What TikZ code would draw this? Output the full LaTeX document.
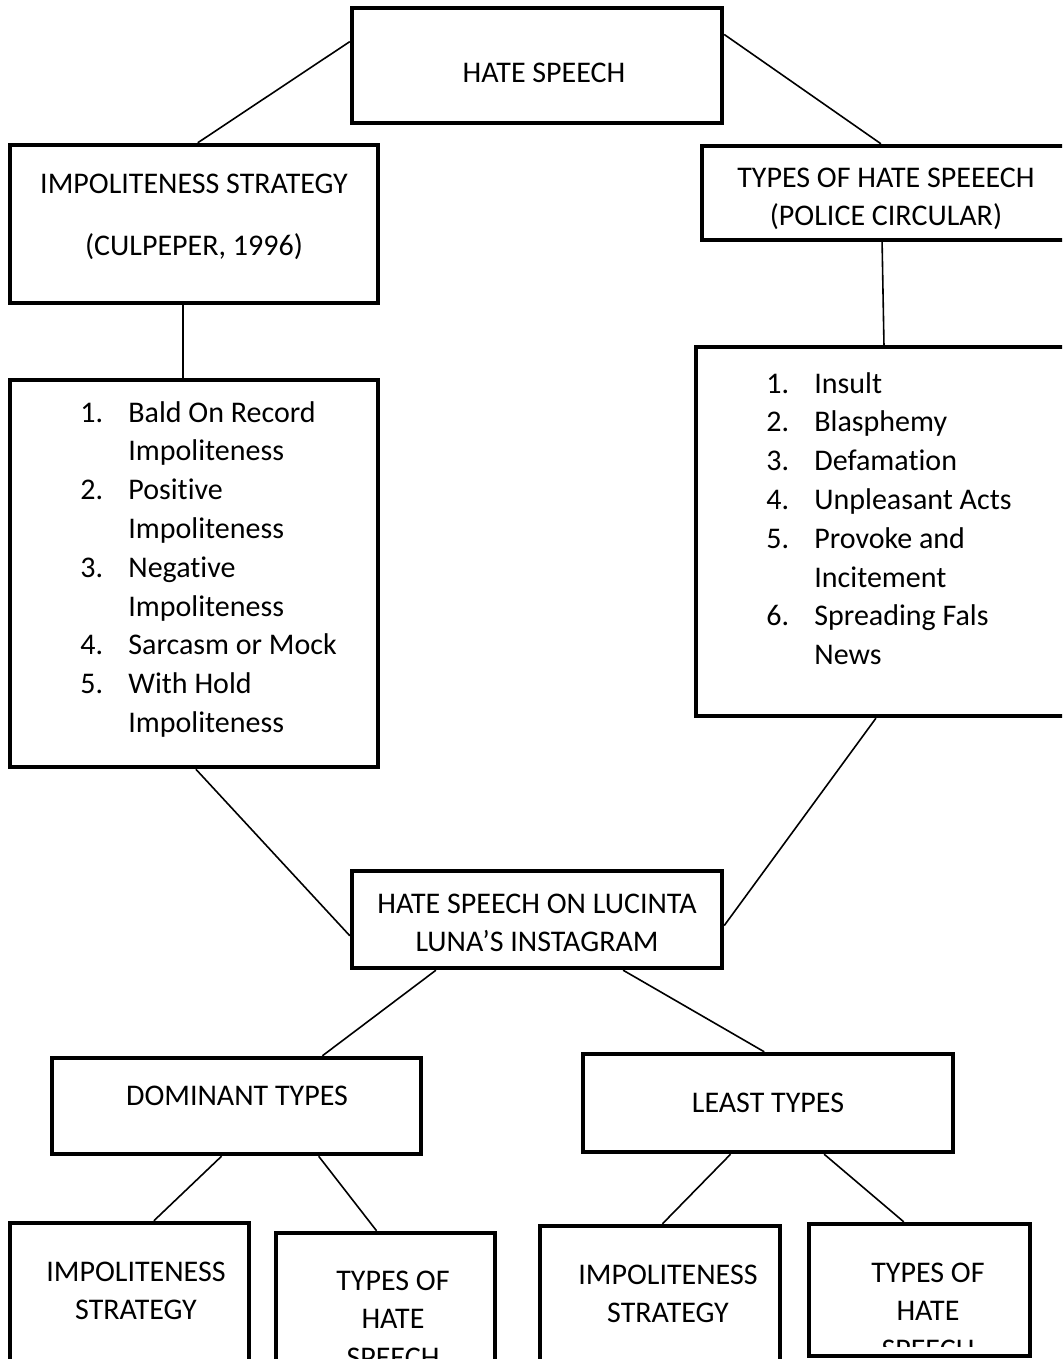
\documentclass[tikz,border=0pt]{standalone}
\usepackage{fontspec}
\setmainfont[Ligatures=NoCommon]{Carlito}
\usetikzlibrary{calc}
\newcommand{\boxlines}[1]{\begin{tabular}[t]{@{}c@{}}#1\end{tabular}}
\newcommand{\itemlines}[1]{\begin{tabular}[t]{@{}p{24pt}@{}l@{}}#1\end{tabular}}

\begin{document}
\begin{tikzpicture}[x=0.5pt, y=-0.5pt,
    frame/.style 2 args={draw, line width=2.2pt, inner sep=0pt, minimum width=#1, minimum height=#2},
    boxtext/.style={anchor=base, inner sep=0pt, font=\fontsize{15}{19.4}\selectfont},
    listtext/.style={anchor=base west, inner sep=0pt, font=\fontsize{15}{19.4}\selectfont},
    link/.style={line width=0.8pt}]
    \useasboundingbox (0,0) rectangle (1062,1359);
    \clip (0,0) rectangle (1062,1359);

    %%%%% BOXES %%%%%
    \node[frame={185pt}{57.5pt}] (hate) at (537,65.5) {};
    \node[frame={184pt}{79pt}] (imp) at (194,224) {};
    \node[frame={186.5pt}{47pt}] (tps) at (888.5,193) {};
    \node[frame={184pt}{193.5pt}] (implist) at (194,573.5) {};
    \node[frame={189.5pt}{184.5pt}] (typelist) at (885.5,531.5) {};
    \node[frame={185pt}{48.5pt}] (lucinta) at (537,919.5) {};
    \node[frame={184.5pt}{48pt}] (dom) at (236.5,1106) {};
    \node[frame={185pt}{49pt}] (least) at (768,1103) {};
    \node[frame={119.5pt}{98.5pt}] (domimp) at (129.5,1321.5) {};
    \node[frame={109.5pt}{93.5pt}] (domtyp) at (385.5,1326.5) {};
    \node[frame={120pt}{97pt}] (leastimp) at (660,1323) {};
    \node[frame={110.5pt}{66pt}] (leasttyp) at (919.5,1290) {};

    %%%%% TEXTS %%%%%
    \node[boxtext] (hate-t) at (544,83) {HATE SPEECH};
    \node[boxtext] (imp-t) at (194,193) {\boxlines{IMPOLITENESS STRATEGY\\[11.6pt] (CULPEPER, 1996)}};
    \node[boxtext] (tps-t) at (886,187) {\boxlines{TYPES OF HATE SPEEECH\\ (POLICE CIRCULAR)}};
    \node[listtext] (implist-t) at (80,422) {\itemlines{1. & Bald On Record\\ & Impoliteness\\
        2. & Positive\\ & Impoliteness\\ 3. & Negative\\ & Impoliteness\\
        4. & Sarcasm or Mock\\ 5. & With Hold\\ & Impoliteness}};
    \node[listtext] (typelist-t) at (766,393) {\itemlines{1. & Insult\\ 2. & Blasphemy\\
        3. & Defamation\\ 4. & Unpleasant Acts\\ 5. & Provoke and\\ & Incitement\\
        6. & Spreading Fals\\ & News}};
    \node[boxtext] (lucinta-t) at (537,913) {\boxlines{HATE SPEECH ON LUCINTA\\ LUNA’S INSTAGRAM}};
    \node[boxtext] (dom-t) at (237,1105) {DOMINANT TYPES};
    \node[boxtext] (least-t) at (768,1112) {LEAST TYPES};
    \node[boxtext] (domimp-t) at (136,1281) {\boxlines{IMPOLITENESS\\ STRATEGY}};
    \node[boxtext] (domtyp-t) at (393,1290) {\boxlines{TYPES OF\\ HATE\\ SPEECH}};
    \node[boxtext] (leastimp-t) at (668,1284) {\boxlines{IMPOLITENESS\\ STRATEGY}};
    \begin{scope}
        \clip (leasttyp.north west) rectangle ([yshift=6pt]leasttyp.south east);
        \node[boxtext] (leasttyp-t) at (928,1282) {\boxlines{TYPES OF\\ HATE\\ SPEECH}};
    \end{scope}

    %%%%% LINKS %%%%%
    \draw[link] ($(hate.north west)!0.30!(hate.south west)$) -- ($(imp.north west)!0.51!(imp.north east)$);
    \draw[link] ($(hate.north east)!0.24!(hate.south east)$) -- ($(tps.north west)!0.48!(tps.north east)$);
    \draw[link] ($(imp.south west)!0.47!(imp.south east)$) -- ($(implist.north west)!0.47!(implist.north east)$);
    \draw[link] ($(tps.south west)!0.483!(tps.south east)$) -- ($(typelist.north west)!0.496!(typelist.north east)$);
    \draw[link] ($(implist.south west)!0.505!(implist.south east)$) -- ($(lucinta.north west)!0.66!(lucinta.south west)$);
    \draw[link] ($(typelist.south west)!0.475!(typelist.south east)$) -- ($(lucinta.north east)!0.56!(lucinta.south east)$);
    \draw[link] ($(lucinta.south west)!0.23!(lucinta.south east)$) -- ($(dom.north west)!0.73!(dom.north east)$);
    \draw[link] ($(lucinta.south west)!0.73!(lucinta.south east)$) -- ($(least.north west)!0.49!(least.north east)$);
    \draw[link] ($(dom.south west)!0.46!(dom.south east)$) -- ($(domimp.north west)!0.60!(domimp.north east)$);
    \draw[link] ($(dom.south west)!0.72!(dom.south east)$) -- ($(domtyp.north west)!0.46!(domtyp.north east)$);
    \draw[link] ($(least.south west)!0.40!(least.south east)$) -- ($(leastimp.north west)!0.51!(leastimp.north east)$);
    \draw[link] ($(least.south west)!0.65!(least.south east)$) -- ($(leasttyp.north west)!0.43!(leasttyp.north east)$);
\end{tikzpicture}
\end{document}
